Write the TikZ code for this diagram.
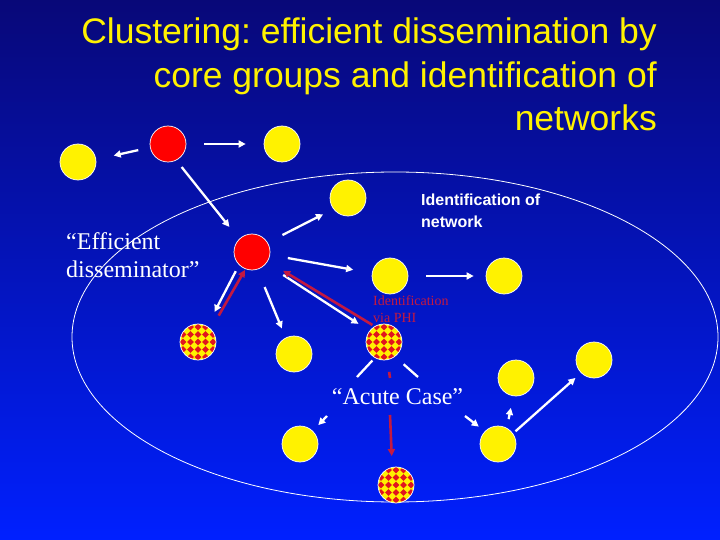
\documentclass[tikz,border=0pt]{standalone}
\usepackage{fontspec}
\setmainfont{Liberation Serif}
\setsansfont{Liberation Sans}
\usetikzlibrary{arrows.meta,calc}
\definecolor{bgtop}{RGB}{8,8,120}
\definecolor{bgbot}{RGB}{0,32,255}
\definecolor{phired}{RGB}{195,25,65}
\definecolor{dotred}{RGB}{225,20,30}
\begin{document}
\frenchspacing
\begin{tikzpicture}[x=1pt,y=-1pt,
  disc/.style={circle,minimum size=36pt,inner sep=0pt,draw=white,line width=0.7pt},
  ydisc/.style={disc,fill=yellow},
  rdisc/.style={disc,fill=red},
  cdisc/.style={disc,fill=yellow,path picture={
      \foreach \i in {-3,...,3}{\foreach \j in {-3,...,3}{
        \fill[dotred] ([shift={(\i*7.5pt,\j*7.5pt)}]path picture bounding box.center)
          +(-3.3pt,0pt) -- +(0pt,3.3pt) -- +(3.3pt,0pt) -- +(0pt,-3.3pt) -- cycle;}}}},
  warr/.style={draw=white,line width=2.3pt,-{Triangle[length=7pt,width=7pt]}},
  rarr/.style={draw=phired,line width=2.6pt,-{Triangle[length=7pt,width=7pt]}},
  wseg/.style={draw=white,line width=2.3pt},
  rseg/.style={draw=phired,line width=2.6pt},
  title/.style={anchor=base east,inner sep=0pt,text=yellow,font=\sffamily\fontsize{35.5}{35.5}\selectfont},
  serifw/.style={inner sep=0pt,text=white,font=\fontsize{24}{24}\selectfont},
  netlbl/.style={anchor=base west,inner sep=0pt,text=white,font=\sffamily\bfseries\fontsize{16}{16}\selectfont},
  philbl/.style={anchor=base west,inner sep=0pt,text=phired,font=\fontsize{14}{14}\selectfont}
]
\useasboundingbox (0,0) rectangle (720,540);
\shade[top color=bgtop,bottom color=bgbot] (0,0) rectangle (720,540);

% title
\node[title] (t1) at (657,44) {Clustering: efficient dissemination by};
\node[title] (t2) at (657,87.5) {core groups and identification of};
\node[title] (t3) at (657,131) {networks};

% ellipse
\draw[white,line width=0.8pt] (395,337) ellipse [x radius=323pt, y radius=165pt];

% discs
\node[ydisc] (A) at (78,162) {};
\node[rdisc] (B) at (168,144) {};
\node[ydisc] (C) at (282,144) {};
\node[ydisc] (D) at (348,198) {};
\node[rdisc] (E) at (252,252) {};
\node[ydisc] (F) at (390,276) {};
\node[ydisc] (G) at (504,276) {};
\node[cdisc] (H) at (198,342) {};
\node[ydisc] (I) at (294,354) {};
\node[cdisc] (J) at (384,342) {};
\node[ydisc] (K) at (516,378) {};
\node[ydisc] (L) at (594,360) {};
\node[ydisc] (M) at (300,444) {};
\node[ydisc] (N) at (498,444) {};
\node[cdisc] (O) at (396,485) {};

% labels
\node[serifw,anchor=base west] (ed1) at (66,249) {“Efficient};
\node[serifw,anchor=base west] (ed2) at (66,277) {disseminator”};
\node[serifw,anchor=base] (ac) at (397.5,404) {“Acute Case”};
\node[netlbl] (in1) at (421,206) {Identification of};
\node[netlbl] (in2) at (421,228) {network};
\node[philbl] (p1) at (373,305) {Identification};
\node[philbl] (p2) at (373,322) {via PHI};

% connectors
\draw[warr,shorten <=12pt,shorten >=18pt] (B.191) -- (A.8);
\draw[warr,shorten <=18pt,shorten >=18pt] (B.0) -- (C.180);
\draw[warr,shorten <=8.5pt,shorten >=15.5pt] (B.-63) -- (E.135);
\draw[warr,shorten <=16.5pt,shorten >=11.5pt] (E.31) -- (D.217);
\draw[warr,shorten <=18pt,shorten >=19pt] (E.-9.5) -- (F.171);
\draw[warr,shorten <=7pt,shorten >=16pt] (E.225) -- (H.60.5);
\draw[rarr,shorten <=15.5pt,shorten >=1pt] (H.45) -- (E.249);
\draw[warr,shorten <=19pt,shorten >=10pt] (E.-73) -- (I.117.5);
\draw[warr,shorten <=20.5pt,shorten >=13pt] (E.-40) -- (J.143);
\draw[rarr,shorten <=2.5pt,shorten >=18pt] (J.121) -- (E.-31.5);
\draw[warr,shorten <=18pt,shorten >=12pt] (F.0) -- (G.180);

\coordinate (jm1) at (357,377);
\coordinate (jm2) at (327,416);
\draw[wseg,shorten <=3.6pt] (J.-120) -- (jm1);
\draw[warr,shorten >=8pt] (jm2) -- (M.46.5);

\coordinate (jn1) at (418,377);
\coordinate (jn2) at (465,416);
\draw[wseg,shorten <=11.5pt] (J.-53) -- (jn1);
\draw[warr,shorten >=7.6pt] (jn2) -- (N.136);

\coordinate (jo1) at (390,378);
\coordinate (jo2) at (390,415);
\draw[rseg,shorten <=12pt] (J.-79) -- (jo1);
\draw[rarr,shorten >=11pt] (jo2) -- (O.102);

\draw[warr,shorten <=9pt,shorten >=12pt] (N.61.6) -- (K.-99.5);
\draw[warr,shorten <=3.3pt,shorten >=7.5pt] (N.35) -- (L.-135);
\end{tikzpicture}
\end{document}
